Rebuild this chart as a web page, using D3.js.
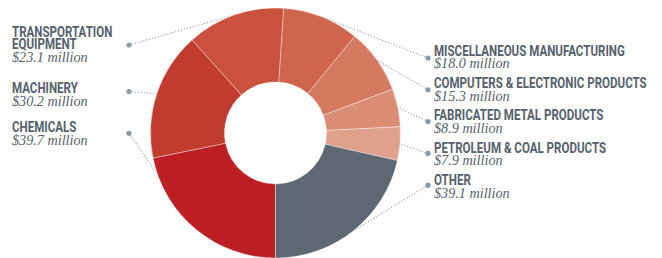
<!DOCTYPE html>
<html>
<head>
<meta charset="utf-8">
<script src="https://cdn.jsdelivr.net/npm/d3@7"></script>
<style>
  html, body { margin: 0; padding: 0; background: #fff; }
  svg { display: block; }
</style>
</head>
<body>
<svg id="chart" width="662" height="258"></svg>
<script>
// ---- data ----
const categories = ["CHEMICALS", "MACHINERY", "TRANSPORTATION EQUIPMENT", "MISCELLANEOUS MANUFACTURING",
  "COMPUTERS & ELECTRONIC PRODUCTS", "FABRICATED METAL PRODUCTS", "PETROLEUM & COAL PRODUCTS", "OTHER"];
const values = [39.7, 30.2, 23.1, 18.0, 15.3, 8.9, 7.9, 39.1];
const valueLabels = ["$39.7 million", "$30.2 million", "$23.1 million", "$18.0 million",
  "$15.3 million", "$8.9 million", "$7.9 million", "$39.1 million"];
const colors = ["#bc1f24", "#c13b2f", "#c9513e", "#cf654c", "#d57a60", "#da8c74", "#e0a18c", "#5d6872"];

// ---- layout ----
const W = 662, H = 258;
const cx = 275.5, cy = 133, rOuter = 125, rInner = 51;
const textColor = "#55616b";
const leaderColor = "#93a0a8";
const nameScaleX = 0.825;

const svg = d3.select("#chart");

const pie = d3.pie().sort(null).value(d => d).startAngle(Math.PI).endAngle(3 * Math.PI);
const arcs = pie(values);
const arc = d3.arc().innerRadius(rInner).outerRadius(rOuter);

const leftIdx = [2, 1, 0];
const rightIdx = [3, 4, 5, 6, 7];
const leftLayout = {
  2: { dotY: 45, nameY: 37.3 },
  1: { dotY: 91.5, nameY: 93.3 },
  0: { dotY: 133.3, nameY: 132.3 }
};
const leftDotX = 129, rightDotX = 428;
const leftTextX = 12, rightTextX = 434;

function outerPoint(a) {
  const m = (a.startAngle + a.endAngle) / 2;
  return [cx + rOuter * Math.sin(m), cy - rOuter * Math.cos(m)];
}

const gLead = svg.append("g");
const gPie = svg.append("g").attr("transform", `translate(${cx},${cy})`);
const gLab = svg.append("g");

function addLeader(i, dx, dy) {
  const [tx, ty] = outerPoint(arcs[i]);
  gLead.append("line")
    .attr("x1", dx).attr("y1", dy).attr("x2", tx).attr("y2", ty)
    .attr("stroke", leaderColor).attr("stroke-width", 1.1)
    .attr("stroke-dasharray", "1.2,1.8");
  gLead.append("circle").attr("cx", dx).attr("cy", dy).attr("r", 2.6).attr("fill", "#8c99a2");
}

leftIdx.forEach(i => addLeader(i, leftDotX, leftLayout[i].dotY));
rightIdx.forEach((i, k) => addLeader(i, rightDotX, 58 + 31.8 * k));

gPie.selectAll("path").data(arcs).join("path")
  .attr("d", arc)
  .attr("fill", (d, i) => colors[i])
  .attr("stroke", "rgba(255,255,255,0.45)")
  .attr("stroke-width", 0.8);

function addName(lines, x, y) {
  lines.forEach((ln, j) => {
    gLab.append("text")
      .attr("transform", `translate(${x},${y + j * 11.7}) scale(${nameScaleX},1)`)
      .attr("font-family", "Roboto, 'DejaVu Sans', sans-serif")
      .attr("font-weight", 700)
      .attr("font-size", 14)
      .attr("fill", textColor)
      .text(ln);
  });
}
function addValue(t, x, y) {
  gLab.append("text")
    .attr("x", x).attr("y", y)
    .attr("font-family", "'Liberation Serif', 'DejaVu Serif', serif")
    .attr("font-style", "italic")
    .attr("font-size", 14.2)
    .attr("fill", textColor)
    .text(t);
}

leftIdx.forEach(i => {
  const name = categories[i];
  const lines = name === "TRANSPORTATION EQUIPMENT" ? ["TRANSPORTATION", "EQUIPMENT"] : [name];
  const y = leftLayout[i].nameY;
  addName(lines, leftTextX, y);
  addValue(valueLabels[i], leftTextX, y + (lines.length - 1) * 11.7 + 12.5);
});
rightIdx.forEach((i, k) => {
  const y = 55.5 + 32.4 * k;
  addName([categories[i]], rightTextX, y);
  addValue(valueLabels[i], rightTextX, y + 12.7);
});
</script>
</body>
</html>
